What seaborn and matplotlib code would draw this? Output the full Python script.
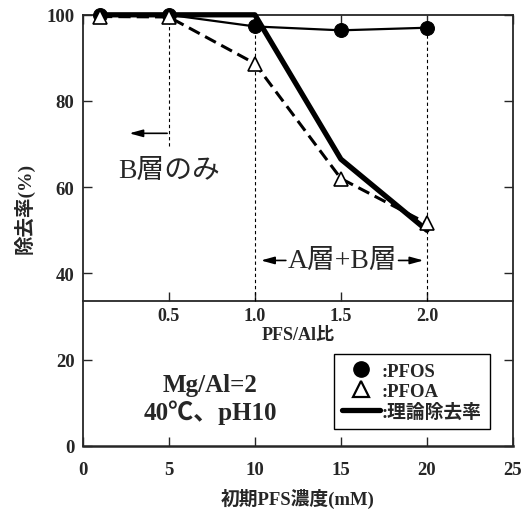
import matplotlib
matplotlib.use("Agg")
import matplotlib.pyplot as plt
from matplotlib.lines import Line2D
import seaborn as sns
import pandas as pd

# initial PFS concentration (mM)
conc = [1, 5, 10, 15, 20]
pfos = [100, 100, 97.3, 96.4, 97.0]
pfoa = [99.6, 99.5, 88.7, 62.0, 51.6]
theory = [100, 100, 100, 66.5, 50.0]

ratio_ticks = [0.5, 1.0, 1.5, 2.0]
ratio_labels = ['0.5', '1.0', '1.5', '2.0']
guide_x = [5, 10, 20]
guide_top = [99, 97, 96]
guide_bottom = [69.6, 33.6, 33.6]

sns.set_style("ticks")
plt.rcParams['font.family'] = ['Liberation Serif', 'Noto Sans CJK JP']
plt.rcParams['font.weight'] = 'bold'
plt.rcParams['axes.linewidth'] = 1.3

df = pd.DataFrame({'conc': conc, 'PFOS': pfos, 'PFOA': pfoa, 'theory': theory})

fig, ax = plt.subplots(figsize=(5.31, 5.10), dpi=100)
fig.subplots_adjust(left=0.156, right=0.966, top=0.969, bottom=0.124)

# guide lines
for gx, gt, gb in zip(guide_x, guide_top, guide_bottom):
    ax.plot([gx, gx], [gb, gt], color='black', lw=0.8, ls=(0, (3, 2.5)), zorder=1)

sns.lineplot(data=df, x='conc', y='PFOS', ax=ax, color='black', lw=1.6,
             marker='o', markersize=10, markeredgecolor='black', clip_on=False, zorder=3)
sns.lineplot(data=df, x='conc', y='PFOA', ax=ax, color='black', lw=2.2,
             linestyle=(0, (4, 2)), marker='^', markersize=10, markerfacecolor='white',
             markeredgecolor='black', markeredgewidth=1.2, clip_on=False, zorder=5)
sns.lineplot(data=df, x='conc', y='theory', ax=ax, color='black', lw=3.8,
             clip_on=False, zorder=4)

ax.set_xlim(0, 25)
ax.set_ylim(0, 100)
ax.set_xticks([0, 5, 10, 15, 20, 25])
ax.set_yticks([0, 20, 40, 60, 80, 100])
ax.tick_params(axis='both', direction='in', top=True, right=True, length=6.5,
               width=1, labelsize=13.5)
ax.tick_params(axis='x', pad=11)
ax.tick_params(axis='y', pad=6)
ax.spines['bottom'].set_linewidth(1.8)
for lab in ax.get_xticklabels() + ax.get_yticklabels():
    lab.set_fontweight('bold')
ax.set_xlabel('初期PFS濃度(mM)', fontsize=13.5, fontweight='bold', labelpad=7)
ax.set_ylabel('除去率(%)', fontsize=14, fontweight='bold')
ax.yaxis.set_label_coords(-0.112, 0.553)

# PFS/Al ratio axis drawn inside the plot
sec = ax.secondary_xaxis(0.336, functions=(lambda x: x / 10, lambda x: x * 10))
sec.set_xticks(ratio_ticks)
sec.set_xticklabels(ratio_labels, fontweight='bold')
sec.tick_params(direction='in', length=6.5, width=1, labelsize=13, pad=4)
sec.spines['bottom'].set_linewidth(1.3)
sec.set_xlabel('PFS/Al比', fontsize=13, fontweight='bold', labelpad=2)

# annotations
arrow = dict(arrowstyle='-|>,head_length=0.8,head_width=0.22', color='black',
             lw=1.2, shrinkA=0, shrinkB=0)
ax.annotate('', xy=(2.7, 72.5), xytext=(4.9, 72.5), arrowprops=arrow)
ax.text(5.0, 63.8, 'B層のみ', fontsize=20, fontweight='normal', ha='center', va='center')
ax.text(15.1, 43, 'A層+B層', fontsize=20, fontweight='normal', ha='center', va='center')
ax.annotate('', xy=(10.35, 43), xytext=(11.8, 43), arrowprops=arrow)
ax.annotate('', xy=(19.8, 43), xytext=(18.35, 43), arrowprops=arrow)
ax.text(7.4, 14.3, 'Mg/Al=2', fontsize=18, fontweight='bold', ha='center', va='center')
ax.text(7.4, 8.0, '40℃、pH10', fontsize=18, fontweight='bold', ha='center', va='center')

handles = [
    Line2D([], [], color='black', marker='o', ls='none', markersize=11),
    Line2D([], [], color='black', marker='^', ls='none', markersize=11,
           markerfacecolor='white', markeredgewidth=1.6),
    Line2D([], [], color='black', lw=3.8),
]
leg = ax.legend(handles, [':PFOS', ':PFOA', ':理論除去率'], loc='lower right',
                bbox_to_anchor=(0.947, 0.039), borderaxespad=0, fancybox=False,
                framealpha=1, edgecolor='black', handlelength=2.0, handletextpad=0.1,
                labelspacing=0.15, borderpad=0.45, prop={'size': 13.5, 'weight': 'bold'})
leg.get_frame().set_linewidth(1.0)

fig.savefig('out.png', dpi=100)
